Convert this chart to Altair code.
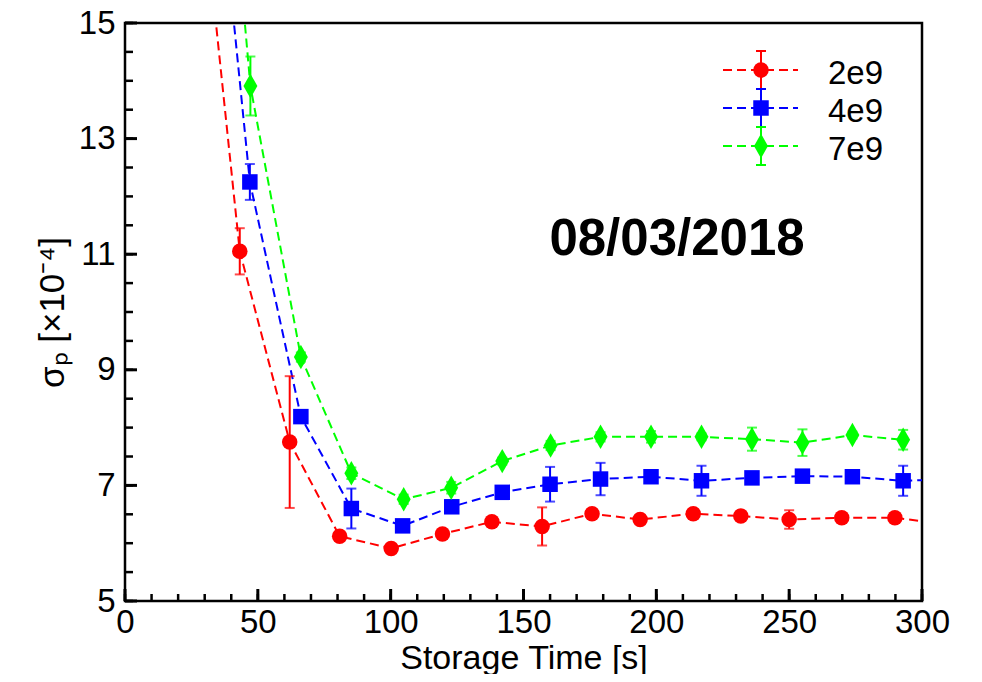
import altair as alt
import pandas as pd

# ---------------- data ----------------
series = ["2e9", "4e9", "7e9"]
colors = ["#ff0000", "#0000ff", "#00ff00"]

t_2e9 = [24, 43.2, 62, 80.8, 100.2, 119.5, 138.1, 157, 175.8, 193.9, 213.9, 231.8, 250, 269.8, 289.8, 309]
v_2e9 = [19.5, 11.05, 7.75, 6.12, 5.91, 6.16, 6.37, 6.29, 6.51, 6.41, 6.51, 6.47, 6.41, 6.44, 6.44, 6.33]
e_2e9 = [0.4, 0.4, 1.14, 0.05, 0.05, 0.05, 0.05, 0.33, 0.06, 0.05, 0.05, 0.05, 0.16, 0.05, 0.05, 0.05]

t_4e9 = [29, 47, 66.2, 85.2, 104.5, 123, 142, 160, 179, 198, 217, 236, 255, 273.8, 292.9, 312]
v_4e9 = [20.5, 12.25, 8.19, 6.60, 6.30, 6.63, 6.88, 7.02, 7.11, 7.15, 7.08, 7.13, 7.16, 7.15, 7.08, 7.11]
e_4e9 = [0.3, 0.31, 0.08, 0.345, 0.06, 0.06, 0.06, 0.3, 0.28, 0.06, 0.26, 0.06, 0.06, 0.06, 0.26, 0.06]

t_7e9 = [28, 47.2, 66.2, 85.2, 104.9, 122.8, 142, 160.2, 179, 198, 217, 236, 255, 273.8, 292.9]
v_7e9 = [23.9, 13.91, 9.22, 7.21, 6.76, 6.96, 7.42, 7.69, 7.84, 7.84, 7.84, 7.80, 7.74, 7.87, 7.79]
e_7e9 = [0.5, 0.51, 0.08, 0.1, 0.08, 0.1, 0.06, 0.08, 0.08, 0.1, 0.06, 0.2, 0.23, 0.06, 0.17]

x_labels = [0, 50, 100, 150, 200, 250, 300]
y_labels = [5, 7, 9, 11, 13, 15]
x_minor = list(range(0, 301, 10))
x_major = list(range(0, 301, 50))
y_minor = [5 + 0.5 * i for i in range(21)]
y_major = [5, 7, 9, 11, 13, 15]

date_text = "08/03/2018"
x_title = "Storage Time [s]"
y_title = "σₚ [×10⁻⁴]"

# ---------------- tables ----------------
frames = []
for name, ts, vs, es in [("2e9", t_2e9, v_2e9, e_2e9),
                         ("4e9", t_4e9, v_4e9, e_4e9),
                         ("7e9", t_7e9, v_7e9, e_7e9)]:
    frames.append(pd.DataFrame({"series": name, "t": ts, "v": vs,
                                "lo": [a - b for a, b in zip(vs, es)],
                                "hi": [a + b for a, b in zip(vs, es)]}))
df = pd.concat(frames, ignore_index=True)

FONT = "Liberation Sans"
W, H = 797, 578
DIAMOND = "M0,-1L0.57,0L0,1L-0.57,0Z"
shapes = ["circle", "square", DIAMOND]
sizes = [240, 240, 600]

xs = alt.Scale(domain=[0, 300], nice=False, zero=False)
ys = alt.Scale(domain=[5, 15], nice=False, zero=False)
cs = alt.Scale(domain=series, range=colors)

x_axis = alt.Axis(values=x_labels, ticks=False, domain=False, grid=False,
                  labelFontSize=33, labelPadding=5, labelFlush=False, labelOverlap=False,
                  titleFontSize=34, titlePadding=2, titleFontWeight="normal",
                  labelFont=FONT, titleFont=FONT, labelColor="black", titleColor="black",
                  format="d")
y_axis = alt.Axis(values=y_labels, ticks=False, domain=False, grid=False,
                  labelFontSize=33, labelPadding=10, labelFlush=False, labelOverlap=False,
                  titleFontSize=35, titlePadding=8, titleFontWeight="normal",
                  labelFont=FONT, titleFont=FONT, labelColor="black", titleColor="black",
                  format="d")

X = alt.X("t:Q", scale=xs, axis=x_axis, title=x_title)
Y = alt.Y("v:Q", scale=ys, axis=y_axis, title=y_title)
C = alt.Color("series:N", scale=cs, legend=None)

base = alt.Chart(df)

lines = base.mark_line(strokeDash=[9, 5], strokeWidth=2, clip=True).encode(
    x=X, y=Y, color=C, detail="series:N")

err = base.mark_rule(strokeWidth=2, clip=True).encode(
    x=X, y=alt.Y("lo:Q", scale=ys, title=y_title), y2="hi:Q", color=C)
cap_lo = base.mark_tick(orient="horizontal", size=10, thickness=2, clip=True).encode(
    x=X, y=alt.Y("lo:Q", scale=ys, title=y_title), color=C)
cap_hi = base.mark_tick(orient="horizontal", size=10, thickness=2, clip=True).encode(
    x=X, y=alt.Y("hi:Q", scale=ys, title=y_title), color=C)

point_layers = []
for name, col, shp, sz in zip(series, colors, shapes, sizes):
    point_layers.append(
        base.transform_filter(alt.datum.series == name)
        .mark_point(filled=True, opacity=1, clip=True, color=col, shape=shp, size=sz, strokeWidth=0)
        .encode(x=X, y=Y))

# inward ticks
xt_minor = alt.Chart(pd.DataFrame({"t": x_minor})).mark_rule(color="black", strokeWidth=2.5).encode(
    x=alt.X("t:Q", scale=xs, title=x_title), y=alt.value(H), y2=alt.value(H - 7))
xt_major = alt.Chart(pd.DataFrame({"t": x_major})).mark_rule(color="black", strokeWidth=3).encode(
    x=alt.X("t:Q", scale=xs, title=x_title), y=alt.value(H), y2=alt.value(H - 12))
yt_minor = alt.Chart(pd.DataFrame({"v": y_minor})).mark_rule(color="black", strokeWidth=2.5).encode(
    y=alt.Y("v:Q", scale=ys, title=y_title), x=alt.value(0), x2=alt.value(8))
yt_major = alt.Chart(pd.DataFrame({"v": y_major})).mark_rule(color="black", strokeWidth=3).encode(
    y=alt.Y("v:Q", scale=ys, title=y_title), x=alt.value(0), x2=alt.value(12))

# date annotation
date = alt.Chart(pd.DataFrame({"txt": [date_text]})).mark_text(
    font=FONT, fontSize=51, fontWeight="bold", color="black",
    align="center", baseline="alphabetic").encode(
    text="txt:N", x=alt.value(552), y=alt.value(232))

# manual legend
leg_layers = []
one = pd.DataFrame({"k": [0]})
for i, (name, col, shp, sz) in enumerate(zip(series, colors, shapes, sizes)):
    yc = 47 + 38 * i
    leg_layers.append(alt.Chart(one).mark_rule(color=col, strokeWidth=2, strokeDash=[9, 5]).encode(
        x=alt.value(598), x2=alt.value(673), y=alt.value(yc)))
    leg_layers.append(alt.Chart(one).mark_rule(color=col, strokeWidth=2).encode(
        x=alt.value(636), y=alt.value(yc - 19), y2=alt.value(yc + 19)))
    for yy in (yc - 19, yc + 19):
        leg_layers.append(alt.Chart(one).mark_rule(color=col, strokeWidth=2).encode(
            x=alt.value(631), x2=alt.value(641), y=alt.value(yy)))
    leg_layers.append(alt.Chart(one).mark_point(filled=True, opacity=1, color=col, shape=shp,
                                                size=sz, strokeWidth=0).encode(
        x=alt.value(636), y=alt.value(yc)))
    leg_layers.append(alt.Chart(pd.DataFrame({"txt": [name]})).mark_text(
        font=FONT, fontSize=33, color="black", align="left", baseline="alphabetic").encode(
        text="txt:N", x=alt.value(703), y=alt.value(yc + 14)))

chart = alt.layer(lines, err, cap_lo, cap_hi, *point_layers, xt_minor, xt_major, yt_minor, yt_major,
                  date, *leg_layers).properties(
    width=W, height=H,
    autosize=alt.AutoSizeParams(type="none"),
    padding={"left": 117, "top": 15, "right": 50, "bottom": 73},
    background="white",
).configure_view(stroke="black", strokeWidth=2.5)

chart.save("out.html", embed_options={"renderer": "svg", "actions": False})
